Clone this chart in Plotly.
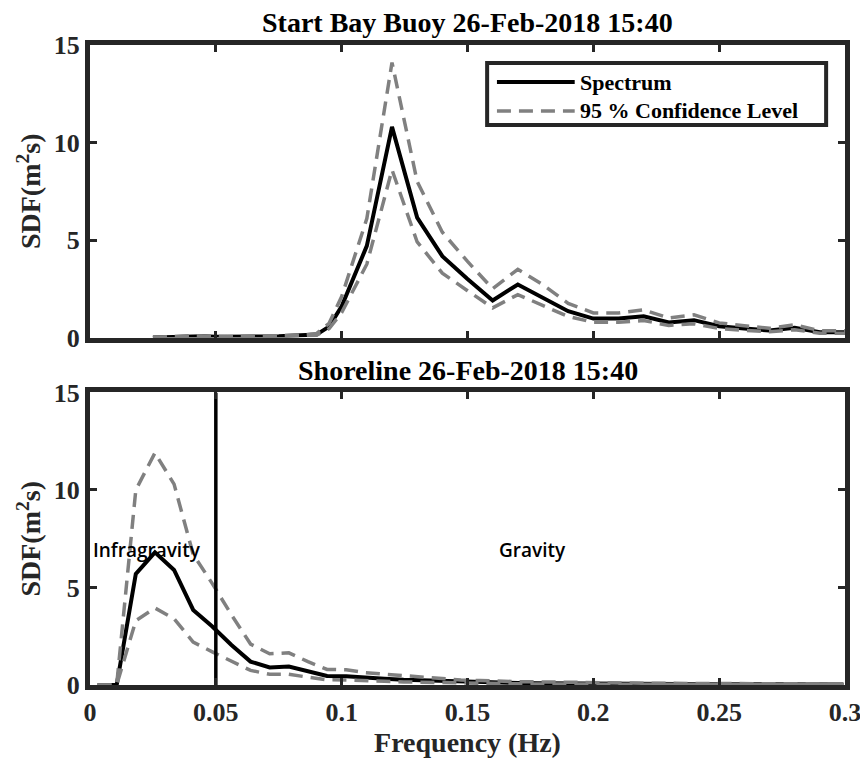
import plotly.graph_objects as go
from plotly.subplots import make_subplots

# ---- Start Bay buoy spectrum (Hz, m^2 s) ----
buoy_freq = [0.025, 0.03, 0.035, 0.04, 0.045, 0.05, 0.055, 0.06, 0.065, 0.07,
             0.075, 0.08, 0.085, 0.09, 0.095, 0.10, 0.11, 0.12, 0.13, 0.14,
             0.15, 0.16, 0.17, 0.18, 0.19, 0.20, 0.21, 0.22, 0.23, 0.24,
             0.25, 0.26, 0.27, 0.28, 0.29, 0.30]
buoy_sdf = [0.0, 0.02, 0.04, 0.08, 0.06, 0.04, 0.03, 0.04, 0.05, 0.05,
            0.06, 0.08, 0.10, 0.15, 0.56, 1.6, 4.7, 10.8, 6.15, 4.17,
            3.0, 1.9, 2.72, 2.05, 1.35, 0.97, 0.97, 1.09, 0.77, 0.89,
            0.58, 0.46, 0.36, 0.50, 0.27, 0.27]
buoy_upper = [0.0, 0.03, 0.05, 0.10, 0.08, 0.05, 0.04, 0.05, 0.07, 0.07,
              0.08, 0.10, 0.13, 0.20, 0.73, 2.1, 6.1, 14.1, 8.0, 5.4,
              3.9, 2.5, 3.5, 2.7, 1.75, 1.26, 1.26, 1.42, 1.0, 1.16,
              0.75, 0.60, 0.47, 0.65, 0.35, 0.35]
buoy_lower = [0.0, 0.016, 0.03, 0.06, 0.05, 0.03, 0.024, 0.03, 0.04, 0.04,
              0.05, 0.06, 0.08, 0.12, 0.45, 1.28, 3.76, 8.6, 4.9, 3.3,
              2.4, 1.52, 2.2, 1.64, 1.08, 0.78, 0.78, 0.87, 0.62, 0.71,
              0.46, 0.37, 0.29, 0.40, 0.22, 0.22]

# ---- Shoreline spectrum ----
shore_freq = [0.0030, 0.0106, 0.0182, 0.0258, 0.0334, 0.0410, 0.0486, 0.0562,
              0.0638, 0.0714, 0.0790, 0.0866, 0.0942, 0.1018, 0.1094, 0.1170,
              0.1246, 0.1322, 0.1398, 0.1474, 0.1550, 0.1626, 0.1702, 0.1778,
              0.1854, 0.1930, 0.2006, 0.2082, 0.2158, 0.2234, 0.2310, 0.2386,
              0.2462, 0.2538, 0.2614, 0.2690, 0.2766, 0.2842, 0.2918, 0.2994]
shore_sdf = [0.0, 0.0, 5.7, 6.8, 5.9, 3.85, 3.0, 2.05,
             1.2, 0.9, 0.95, 0.68, 0.46, 0.45, 0.36, 0.32,
             0.27, 0.24, 0.18, 0.15, 0.13, 0.11, 0.10, 0.09,
             0.08, 0.07, 0.07, 0.06, 0.06, 0.05, 0.05, 0.05,
             0.04, 0.04, 0.04, 0.03, 0.03, 0.03, 0.03, 0.03]
shore_upper = [0.0, 0.0, 10.0, 11.9, 10.3, 6.7, 5.2, 3.6,
               2.1, 1.6, 1.65, 1.2, 0.8, 0.78, 0.63, 0.56,
               0.47, 0.42, 0.32, 0.26, 0.23, 0.19, 0.17, 0.16,
               0.14, 0.12, 0.12, 0.10, 0.10, 0.09, 0.09, 0.09,
               0.07, 0.07, 0.07, 0.05, 0.05, 0.05, 0.05, 0.05]
shore_lower = [0.0, 0.0, 3.3, 3.95, 3.4, 2.2, 1.7, 1.2,
               0.75, 0.55, 0.55, 0.4, 0.27, 0.26, 0.21, 0.19,
               0.16, 0.14, 0.10, 0.09, 0.08, 0.06, 0.06, 0.05,
               0.05, 0.04, 0.04, 0.03, 0.03, 0.03, 0.03, 0.03,
               0.02, 0.02, 0.02, 0.02, 0.02, 0.02, 0.02, 0.02]

split_freq = 0.05          # infragravity / gravity boundary
x_ticks = [0, 0.05, 0.1, 0.15, 0.2, 0.25, 0.3]
x_tick_text = ["0", "0.05", "0.1", "0.15", "0.2", "0.25", "0.3"]
y_ticks = [0, 5, 10, 15]

SERIF = "Liberation Serif"
AX = "#262626"
GREY = "#808080"

fig = make_subplots(rows=2, cols=1, vertical_spacing=0.0859)

panels = [(1, buoy_freq, buoy_sdf, buoy_upper, buoy_lower),
          (2, shore_freq, shore_sdf, shore_upper, shore_lower)]
for row, f, s, up, lo in panels:
    fig.add_trace(go.Scatter(x=f, y=s, mode="lines", name="Spectrum",
                             line=dict(color="black", width=4),
                             showlegend=False), row=row, col=1)
    for bound in (up, lo):
        fig.add_trace(go.Scatter(x=f, y=bound, mode="lines",
                                 name="95 % Confidence Level",
                                 line=dict(color=GREY, width=3.5, dash="14px,8px"),
                                 showlegend=False), row=row, col=1)

# boundary between infragravity and gravity bands
fig.add_trace(go.Scatter(x=[split_freq, split_freq], y=[0, 15], mode="lines",
                         line=dict(color="black", width=3.5), showlegend=False),
              row=2, col=1)

axis_style = dict(showline=True, mirror="ticks", linewidth=5, linecolor=AX,
                  ticks="inside", ticklen=7, tickwidth=3, tickcolor=AX,
                  showgrid=False, zeroline=False, automargin=False,
                  ticklabeloverflow="allow",
                  tickfont=dict(family=SERIF, size=26, color=AX, weight="bold"))

for row in (1, 2):
    fig.update_xaxes(range=[0, 0.3], tickvals=x_ticks, ticktext=x_tick_text,
                     showticklabels=(row == 2), row=row, col=1, **axis_style)
    fig.update_yaxes(range=[0, 15], tickvals=y_ticks, row=row, col=1,
                     title=dict(text="SDF(m<sup>2</sup>s)", standoff=6,
                                font=dict(family=SERIF, size=28, color=AX, weight="bold")),
                     **axis_style)

fig.update_xaxes(title=dict(text="Frequency (Hz)", standoff=4,
                            font=dict(family=SERIF, size=28, color=AX, weight="bold")),
                 row=2, col=1)

title_font = dict(family=SERIF, size=28, color="black", weight="bold")
band_font = dict(family="Open Sans", size=19, color="black", weight=600)
annotations = [
    dict(text="Start Bay Buoy 26-Feb-2018 15:40", x=0.5, y=1.0, xref="paper", yref="paper",
         xanchor="center", yanchor="bottom", yshift=5, showarrow=False, font=title_font),
    dict(text="Shoreline 26-Feb-2018 15:40", x=0.5, y=0.456, xref="paper", yref="paper",
         xanchor="center", yanchor="bottom", yshift=5, showarrow=False, font=title_font),
    dict(text="Infragravity", x=0.0226, y=6.9, xref="x2", yref="y2", showarrow=False,
         font=band_font),
    dict(text="Gravity", x=0.176, y=6.9, xref="x2", yref="y2", showarrow=False,
         font=band_font),
]

# legend box in the upper panel
leg_font = dict(family=SERIF, size=22, color="black", weight="bold")
shapes = [
    dict(type="rect", xref="paper", yref="paper", x0=0.526, x1=0.975, y0=0.875, y1=0.972,
         line=dict(color=AX, width=4), fillcolor="white", layer="above"),
    dict(type="line", xref="paper", yref="paper", x0=0.539, x1=0.642, y0=0.942, y1=0.942,
         line=dict(color="black", width=4), layer="above"),
    dict(type="line", xref="paper", yref="paper", x0=0.539, x1=0.642, y0=0.897, y1=0.897,
         line=dict(color=GREY, width=3.5, dash="14px,8px"), layer="above"),
]
annotations += [
    dict(text="Spectrum", x=0.647, y=0.942, xref="paper", yref="paper", xanchor="left",
         yanchor="middle", showarrow=False, font=leg_font),
    dict(text="95 % Confidence Level", x=0.647, y=0.897, xref="paper", yref="paper",
         xanchor="left", yanchor="middle", showarrow=False, font=leg_font),
]

fig.update_layout(width=860, height=760, margin=dict(l=90, r=15, t=45, b=75),
                  plot_bgcolor="white", paper_bgcolor="white",
                  annotations=annotations, shapes=shapes, showlegend=False)

fig.write_html("out.html")
